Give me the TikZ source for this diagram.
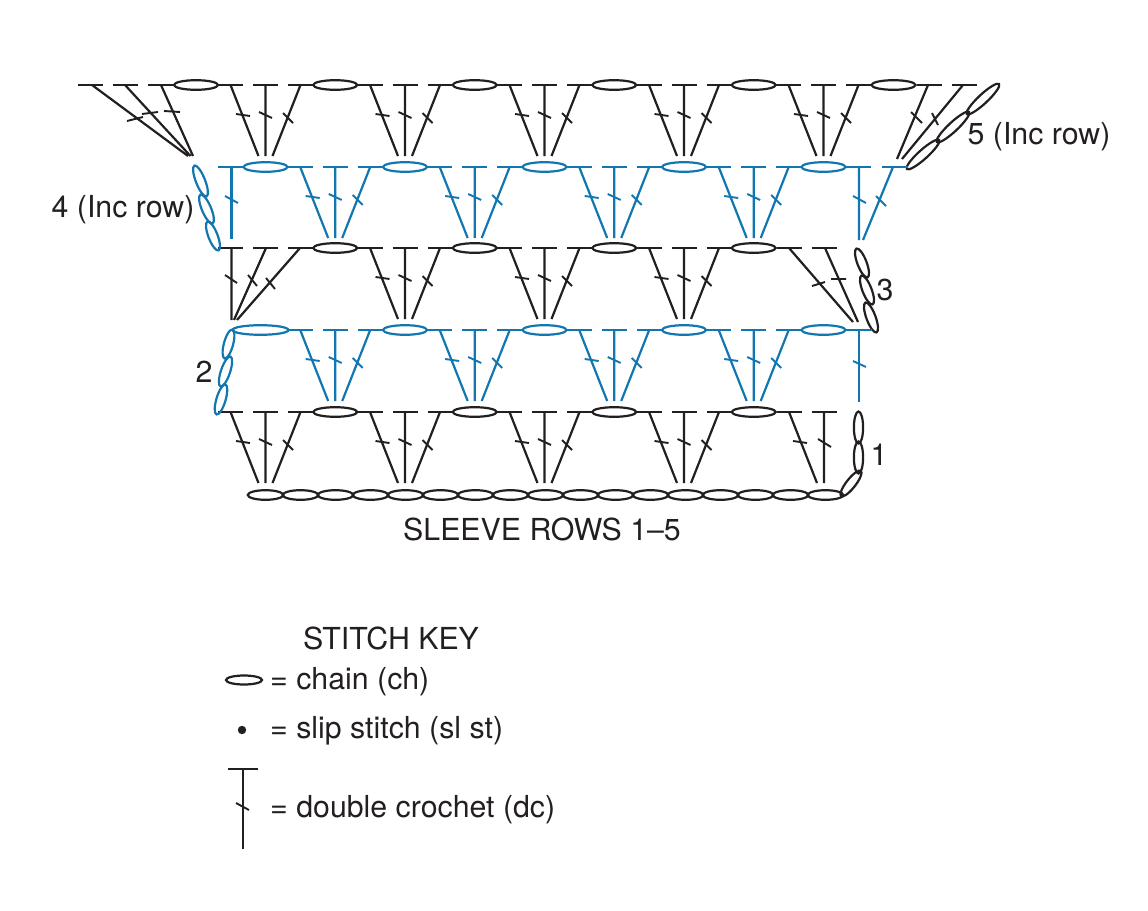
\documentclass[tikz,border=0pt]{standalone}
\usepackage{fontspec}
\setmainfont{TeX Gyre Heros}
\definecolor{rowblue}{HTML}{1276B0}
\definecolor{rowblack}{HTML}{231F20}
\newcommand{\dcbars}[2]{\draw[stitch] (#1-47.5,#2) -- (#1-22.5,#2) (#1-12.5,#2) -- (#1+12.5,#2) (#1+22.5,#2) -- (#1+47.5,#2);}
\newcommand{\dcfan}[2]{
	\draw[stitch] (#1-35,#2) -- (#1-7,#2+71) (#1,#2) -- (#1,#2+71) (#1+35,#2) -- (#1+7,#2+71);
	\draw[tick] (#1-29.5,#2+29) -- (#1-15.5,#2+31) (#1-6.5,#2+27) -- (#1+6.5,#2+33) (#1+17.5,#2+28) -- (#1+27.5,#2+38);
}
\newcommand{\chainh}[2]{\draw[stitch] (#1,#2) ellipse [x radius=22, y radius=4.8];}
\newcommand{\chainlink}[4]{
	\pgfmathsetmacro{\linkang}{atan2(#2-#4,#3-#1)}
	\pgfmathsetmacro{\linklen}{veclen(#3-#1,#4-#2)/2+1.5}
	\draw[stitch, shift={({(#1+#3)/2},{(#2+#4)/2})}, rotate=\linkang] (0,0) ellipse [x radius=\linklen, y radius=4.6];
}
\tikzset{
	stitch/.style={line width=2.2pt},
	tick/.style={line width=1.9pt},
	label/.style={font=\fontsize{30.3}{34}\selectfont, text=rowblack, inner sep=0pt}
}
\begin{document}
\begin{tikzpicture}[x=1pt,y=-1pt]
	\useasboundingbox (0,0) rectangle (1148,910);

	\begin{scope}[rowblack]
		\foreach \cx in {265.5,405,544.5,684} {\dcbars{\cx}{412} \dcfan{\cx}{412} \chainh{\cx+69.7}{412}}
		\draw[stitch] (776.5,412) -- (801.5,412) (811.5,412) -- (836.5,412);
		\draw[stitch] (789,412) -- (817,483) (824,412) -- (824,483);
		\draw[tick] (793,441) -- (807,443) (818,439) -- (831,447);
		\foreach \i in {0,...,16} \draw[stitch] ({265.5+35*\i},495) ellipse [x radius=17.7, y radius=4.8];
		\chainlink{858.5}{413}{858.5}{442}
		\chainlink{858.5}{443}{858.5}{472}
		\chainlink{842}{495}{860}{472}

		\foreach \cx in {405,544.5,684} {\dcbars{\cx}{248} \dcfan{\cx}{248} \chainh{\cx+69.7}{248}}
		\dcbars{265.5}{248}
		\chainh{335.2}{248}
		\draw[stitch] (231.5,248) -- (231.5,320) (266,248) -- (234,320) (300,248) -- (237,320);
		\draw[tick] (225,275) -- (237,283) (248,275) -- (257,286) (266,278) -- (275,289);
		\draw[stitch] (776.5,248) -- (801.5,248) (811.5,248) -- (836.5,248);
		\draw[stitch] (789,248) -- (853,322) (825,248) -- (858,322);
		\draw[tick] (812,286) -- (825,282) (831,279) -- (846,279);
		\chainlink{857}{250}{867}{276}
		\chainlink{862}{277}{872}{303}
		\chainlink{866}{304}{876}{331}

		\foreach \cx in {265.5,405,544.5,684,823.5} {\dcbars{\cx}{85} \dcfan{\cx}{85}}
		\foreach \cx in {196,335.2,474.7,614.2,753.7,893.5} \chainh{\cx}{85};
		\dcbars{125.6}{85}
		\draw[stitch] (916.5,85) -- (941.5,85) (951.5,85) -- (976.5,85);
		\draw[stitch] (92,85) -- (188,156) (125,85) -- (190.5,156) (161,85) -- (193,156);
		\draw[tick] (127,121) -- (143,117) (142,114) -- (158,112) (164,111) -- (180,112);
		\draw[stitch] (928,85) -- (897,159) (963,85) -- (902,159);
		\draw[tick] (911,112) -- (922,123) (932,113) -- (938,125);
		\chainlink{908}{168}{938}{141}
		\chainlink{938}{141}{968}{113}
		\chainlink{968}{113}{998}{85}
	\end{scope}

	\begin{scope}[rowblue]
		\foreach \cx in {335.2,474.7,614.2,753.7} {\dcbars{\cx}{330} \dcfan{\cx}{330}}
		\foreach \cx in {405,544.5,684,823.5} \chainh{\cx}{330};
		\draw[stitch] (260.5,330) ellipse [x radius=28, y radius=4.8];
		\draw[stitch] (846,330) -- (872,330) (859,330) -- (859,402);
		\draw[tick] (853,361) -- (866,367);
		\chainlink{232}{331}{225}{357}
		\chainlink{230}{358}{221}{385}
		\chainlink{225}{386}{217}{413}

		\foreach \cx in {335.2,474.7,614.2,753.7} {\dcbars{\cx}{167} \dcfan{\cx}{167}}
		\foreach \cx in {265.5,405,544.5,684,823.5} \chainh{\cx}{167};
		\draw[stitch] (218,167) -- (243,167) (231.5,167) -- (231.5,239);
		\draw[tick] (225,196) -- (238,203);
		\draw[stitch] (846,167) -- (871,167) (882,167) -- (908,167);
		\draw[stitch] (859,167) -- (859,240) (893,167) -- (863,240);
		\draw[tick] (853,196) -- (866,203) (876,196) -- (886,206);
		\chainlink{195}{167}{206}{195}
		\chainlink{201}{196}{212}{222}
		\chainlink{208}{223}{218}{249}
	\end{scope}

	\draw (1039,136.5) node [label] (inc5) {5 (Inc row)};
	\draw (123,210) node [label] (inc4) {4 (Inc row)};
	\draw (885,290) node [label] (row3) {3};
	\draw (204,372) node [label] (row2) {2};
	\draw (879,455) node [label] (row1) {1};
	\draw (542,529) node [label] (title) {SLEEVE ROWS 1–5};
	\draw (391,638) node [label] (keytitle) {STITCH KEY};
	\draw (270,682) node [label, anchor=west] (keychain) {= chain (ch)};
	\draw (270,731) node [label, anchor=west] (keyslip) {= slip stitch (sl st)};
	\draw (270,810) node [label, anchor=west] (keydc) {= double crochet (dc)};

	\begin{scope}[rowblack]
		\draw[stitch] (244,680) ellipse [x radius=18, y radius=4.5];
		\fill (242,730) circle [radius=4.2];
		\draw[stitch] (228,769) -- (258,769) (243,769) -- (243,849);
		\draw[tick] (236,803) -- (249,810);
	\end{scope}
\end{tikzpicture}
\end{document}
